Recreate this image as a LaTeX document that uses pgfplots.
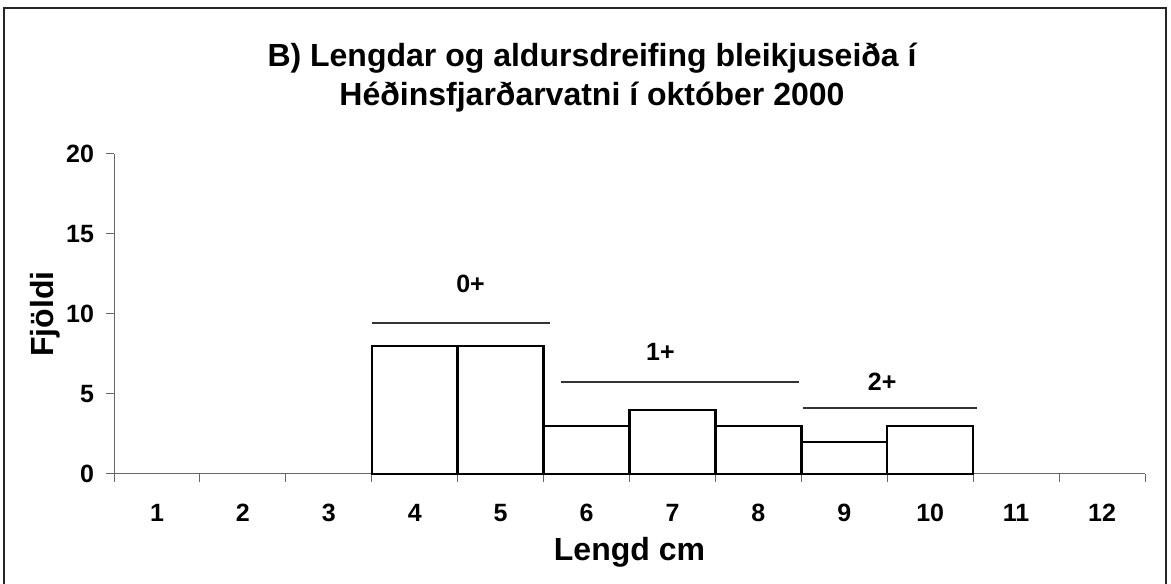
\documentclass[border=0pt]{standalone}
\usepackage{pgfplots}
\pgfplotsset{compat=1.18}
\usepackage{fontspec}
\setmainfont{Liberation Sans}
\begin{document}
\begin{tikzpicture}
\useasboundingbox (0pt,0pt) rectangle (585.5pt,291.5pt);
\draw[line width=1pt,black!85] (2pt,-2pt) rectangle (583pt,287.5pt);
\node[align=center,font=\fontsize{16}{19.5}\selectfont\bfseries] at (296pt,252.5pt)
  {B) Lengdar og aldursdreifing bleikjuseiða í\\Héðinsfjarðarvatni í október 2000};
\begin{axis}[
  at={(57pt,54.5pt)}, anchor=south west,
  scale only axis, width=515.5pt, height=160pt,
  xmin=0.5, xmax=12.5, ymin=0, ymax=20,
  axis x line*=bottom, axis y line*=left,
  axis line style={black!60,line width=0.5pt},
  xtick={1,...,12},
  minor xtick={0.5,1.5,...,12.5},
  ytick={0,5,10,15,20},
  major x tick style={draw=none},
  minor tick length=4pt,
  major tick length=4pt,
  tick style={black!60,line width=0.5pt},
  tick align=outside,
  /pgf/number format/assume math mode=true,
  ticklabel style={font=\fontsize{12.5}{15}\selectfont\bfseries},
  xticklabel style={text height=9pt,text depth=0pt,yshift=-7pt},
  yticklabel style={xshift=-2.5pt},
  xlabel={Lengd cm}, ylabel={Fjöldi},
  label style={font=\fontsize{16}{18}\selectfont\bfseries},
  xlabel style={at={(axis description cs:0.5,-0.244)},anchor=center},
  ylabel style={at={(axis description cs:-0.067,0.5)},anchor=center},
  clip=false,
]
\addplot[ybar, bar width=1, draw=black, fill=white, line width=1.2pt]
  coordinates {(4,8) (5,8) (6,3) (7,4) (8,3) (9,2) (10,3)};
\addplot[black!80, line width=1pt] coordinates {(3.5,9.44) (5.57,9.44)};
\addplot[black!80, line width=1pt] coordinates {(5.7,5.75) (8.47,5.75)};
\addplot[black!80, line width=1pt] coordinates {(8.52,4.1) (10.55,4.1)};
\node[font=\fontsize{12.5}{14}\selectfont\bfseries] at (axis cs:4.65,11.9) {0+};
\node[font=\fontsize{12.5}{14}\selectfont\bfseries] at (axis cs:6.86,7.6) {1+};
\node[font=\fontsize{12.5}{14}\selectfont\bfseries] at (axis cs:9.44,5.75) {2+};
\end{axis}
\end{tikzpicture}
\end{document}
